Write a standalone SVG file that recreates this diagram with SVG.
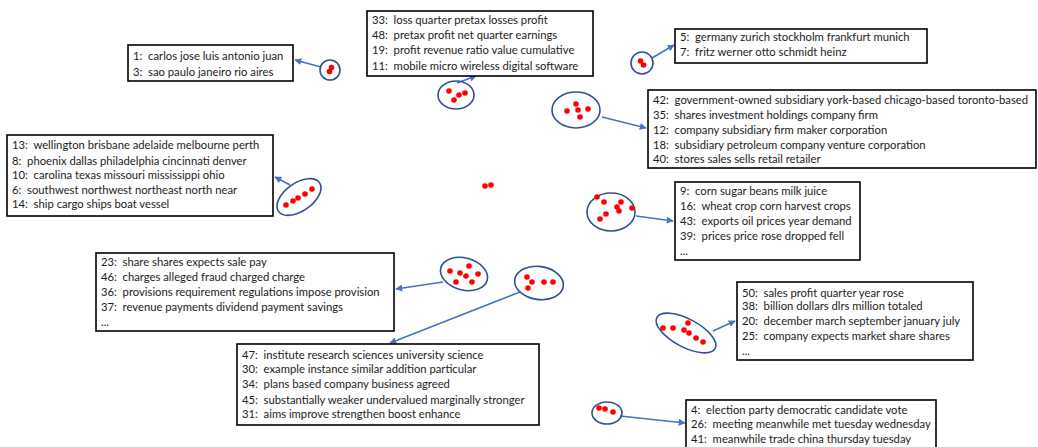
<svg xmlns="http://www.w3.org/2000/svg" width="1038" height="447" viewBox="0 0 1038 447">
<defs>
<marker id="ah" viewBox="0 0 10 10" refX="9" refY="5" markerWidth="7" markerHeight="7" markerUnits="userSpaceOnUse" orient="auto">
<path d="M0,0 L10,5 L0,10 z" fill="#4472C4"/>
</marker>
<style>
.box{fill:#fff;stroke:#000;stroke-width:1.6}
.cl{fill:none;stroke:#2F528F;stroke-width:1.6}
.d{fill:#FF0000}
.t{font-family:Lato,"Liberation Sans",sans-serif;font-size:11.25px;fill:#1a1a1a;white-space:pre}
.c{fill:none;stroke:#4472C4;stroke-width:1.6;marker-end:url(#ah)}
</style>
</defs>
<rect width="1038" height="447" fill="#fff"/>

<g id="connectors">
<line class="c" x1="321" y1="67" x2="295" y2="60"/>
<line class="c" x1="457" y1="83" x2="476" y2="76"/>
<line class="c" x1="652" y1="58" x2="674" y2="45"/>
<line class="c" x1="602" y1="117" x2="646" y2="128"/>
<line class="c" x1="290" y1="185" x2="275" y2="177"/>
<line class="c" x1="636" y1="216" x2="673" y2="221"/>
<line class="c" x1="443" y1="282" x2="396" y2="289"/>
<line class="c" x1="520" y1="292" x2="390" y2="343"/>
<line class="c" x1="713" y1="331" x2="735" y2="321"/>
<line class="c" x1="620" y1="416" x2="685" y2="423"/>
</g>

<g id="cluster-1">
<circle class="cl" cx="330" cy="70" r="10"/>
<circle class="d" cx="331.5" cy="67.5" r="2.8"/><circle class="d" cx="329.5" cy="71.5" r="2.8"/>
</g>
<g id="cluster-2">
<ellipse class="cl" cx="456" cy="95" rx="18" ry="14"/>
<circle class="d" cx="449" cy="91" r="2.8"/><circle class="d" cx="459" cy="95" r="2.8"/><circle class="d" cx="465" cy="93" r="2.8"/><circle class="d" cx="454" cy="100" r="2.8"/>
</g>
<g id="cluster-3">
<circle class="cl" cx="642" cy="63" r="11"/>
<circle class="d" cx="640.5" cy="61" r="2.8"/><circle class="d" cx="643.5" cy="65" r="2.8"/>
</g>
<g id="cluster-4">
<ellipse class="cl" cx="576" cy="110" rx="24" ry="18"/>
<circle class="d" cx="576" cy="104" r="2.8"/><circle class="d" cx="567" cy="111" r="2.8"/><circle class="d" cx="578" cy="110" r="2.8"/><circle class="d" cx="588" cy="109" r="2.8"/><circle class="d" cx="580" cy="117" r="2.8"/>
</g>
<g id="cluster-5">
<ellipse class="cl" cx="299" cy="197" rx="25" ry="14" transform="rotate(-35 299 197)"/>
<circle class="d" cx="286" cy="205" r="2.8"/><circle class="d" cx="293" cy="201" r="2.8"/><circle class="d" cx="298" cy="198" r="2.8"/><circle class="d" cx="305" cy="194" r="2.8"/><circle class="d" cx="312" cy="189" r="2.8"/>
</g>
<g id="cluster-6">
<circle class="d" cx="485" cy="186" r="2.8"/><circle class="d" cx="491" cy="185" r="2.8"/>
</g>
<g id="cluster-7">
<ellipse class="cl" cx="611" cy="212" rx="24" ry="19"/>
<circle class="d" cx="597" cy="197" r="2.8"/><circle class="d" cx="604" cy="202" r="2.8"/><circle class="d" cx="621" cy="202" r="2.8"/><circle class="d" cx="617" cy="207" r="2.8"/><circle class="d" cx="619" cy="211" r="2.8"/><circle class="d" cx="632" cy="208" r="2.8"/><circle class="d" cx="606" cy="214" r="2.8"/><circle class="d" cx="600" cy="219" r="2.8"/>
</g>
<g id="cluster-8">
<ellipse class="cl" cx="464" cy="274" rx="24" ry="16" transform="rotate(15 464 274)"/>
<circle class="d" cx="450" cy="271" r="2.8"/><circle class="d" cx="460" cy="273" r="2.8"/><circle class="d" cx="469" cy="266" r="2.8"/><circle class="d" cx="466" cy="276" r="2.8"/><circle class="d" cx="478" cy="274" r="2.8"/><circle class="d" cx="456" cy="282" r="2.8"/><circle class="d" cx="472" cy="282" r="2.8"/>
</g>
<g id="cluster-9">
<ellipse class="cl" cx="539" cy="283" rx="24.5" ry="16.5" transform="rotate(8 539 283)"/>
<circle class="d" cx="527" cy="277" r="2.8"/><circle class="d" cx="532" cy="282" r="2.8"/><circle class="d" cx="528" cy="288" r="2.8"/><circle class="d" cx="544" cy="282" r="2.8"/><circle class="d" cx="553" cy="282" r="2.8"/>
</g>
<g id="cluster-10">
<ellipse class="cl" cx="686" cy="333" rx="33" ry="14" transform="rotate(28 686 333)"/>
<circle class="d" cx="663" cy="328" r="2.8"/><circle class="d" cx="673" cy="328" r="2.8"/><circle class="d" cx="688" cy="323" r="2.8"/><circle class="d" cx="684" cy="330" r="2.8"/><circle class="d" cx="689" cy="333" r="2.8"/><circle class="d" cx="696" cy="338" r="2.8"/><circle class="d" cx="703" cy="342" r="2.8"/>
</g>
<g id="cluster-11">
<ellipse class="cl" cx="607" cy="413" rx="15" ry="11"/>
<circle class="d" cx="599" cy="408" r="2.8"/><circle class="d" cx="605" cy="409" r="2.8"/><circle class="d" cx="613" cy="412" r="2.8"/>
</g>

<g id="box-1">
<rect class="box" x="128" y="45" width="165" height="36"/>
<text class="t" x="133" y="60">1:  carlos jose luis antonio juan</text>
<text class="t" x="133" y="76">3:  sao paulo janeiro rio aires</text>
</g>
<g id="box-2">
<rect class="box" x="367" y="11" width="226" height="65"/>
<text class="t" x="372" y="24">33:  loss quarter pretax losses profit</text>
<text class="t" x="372" y="39">48:  pretax profit net quarter earnings</text>
<text class="t" x="372" y="54">19:  profit revenue ratio value cumulative</text>
<text class="t" x="372" y="70">11:  mobile micro wireless digital software</text>
</g>
<g id="box-3">
<rect class="box" x="675" y="29" width="252" height="34"/>
<text class="t" x="680" y="41">5:  germany zurich stockholm frankfurt munich</text>
<text class="t" x="680" y="56">7:  fritz werner otto schmidt heinz</text>
</g>
<g id="box-4">
<rect class="box" x="648" y="90" width="388" height="78"/>
<text class="t" x="653" y="104">42:  government-owned subsidiary york-based chicago-based toronto-based</text>
<text class="t" x="653" y="119">35:  shares investment holdings company firm</text>
<text class="t" x="653" y="134">12:  company subsidiary firm maker corporation</text>
<text class="t" x="653" y="149">18:  subsidiary petroleum company venture corporation</text>
<text class="t" x="653" y="163">40:  stores sales sells retail retailer</text>
</g>
<g id="box-5">
<rect class="box" x="7" y="135" width="266" height="81"/>
<text class="t" x="12" y="149">13:  wellington brisbane adelaide melbourne perth</text>
<text class="t" x="12" y="165">8:  phoenix dallas philadelphia cincinnati denver</text>
<text class="t" x="12" y="179">10:  carolina texas missouri mississippi ohio</text>
<text class="t" x="12" y="194">6:  southwest northwest northeast north near</text>
<text class="t" x="12" y="208">14:  ship cargo ships boat vessel</text>
</g>
<g id="box-6">
<rect class="box" x="675" y="182" width="185" height="78"/>
<text class="t" x="680" y="195">9:  corn sugar beans milk juice</text>
<text class="t" x="680" y="210">16:  wheat crop corn harvest crops</text>
<text class="t" x="680" y="225">43:  exports oil prices year demand</text>
<text class="t" x="680" y="240">39:  prices price rose dropped fell</text>
<text class="t" x="680" y="255">...</text>
</g>
<g id="box-7">
<rect class="box" x="96" y="253" width="298" height="78"/>
<text class="t" x="101" y="266">23:  share shares expects sale pay</text>
<text class="t" x="101" y="281">46:  charges alleged fraud charged charge</text>
<text class="t" x="101" y="296">36:  provisions requirement regulations impose provision</text>
<text class="t" x="101" y="311">37:  revenue payments dividend payment savings</text>
<text class="t" x="101" y="326">...</text>
</g>
<g id="box-8">
<rect class="box" x="237" y="344" width="302" height="81"/>
<text class="t" x="242" y="359">47:  institute research sciences university science</text>
<text class="t" x="242" y="373">30:  example instance similar addition particular</text>
<text class="t" x="242" y="388">34:  plans based company business agreed</text>
<text class="t" x="242" y="404">45:  substantially weaker undervalued marginally stronger</text>
<text class="t" x="242" y="418">31:  aims improve strengthen boost enhance</text>
</g>
<g id="box-9">
<rect class="box" x="737" y="282" width="236" height="78"/>
<text class="t" x="742" y="297">50:  sales profit quarter year rose</text>
<text class="t" x="742" y="310">38:  billion dollars dlrs million totaled</text>
<text class="t" x="742" y="325">20:  december march september january july</text>
<text class="t" x="742" y="340">25:  company expects market share shares</text>
<text class="t" x="742" y="355">...</text>
</g>
<g id="box-10">
<rect class="box" x="686" y="400" width="250" height="52"/>
<text class="t" x="691" y="414">4:  election party democratic candidate vote</text>
<text class="t" x="691" y="428">26:  meeting meanwhile met tuesday wednesday</text>
<text class="t" x="691" y="443">41:  meanwhile trade china thursday tuesday</text>
</g>
</svg>
